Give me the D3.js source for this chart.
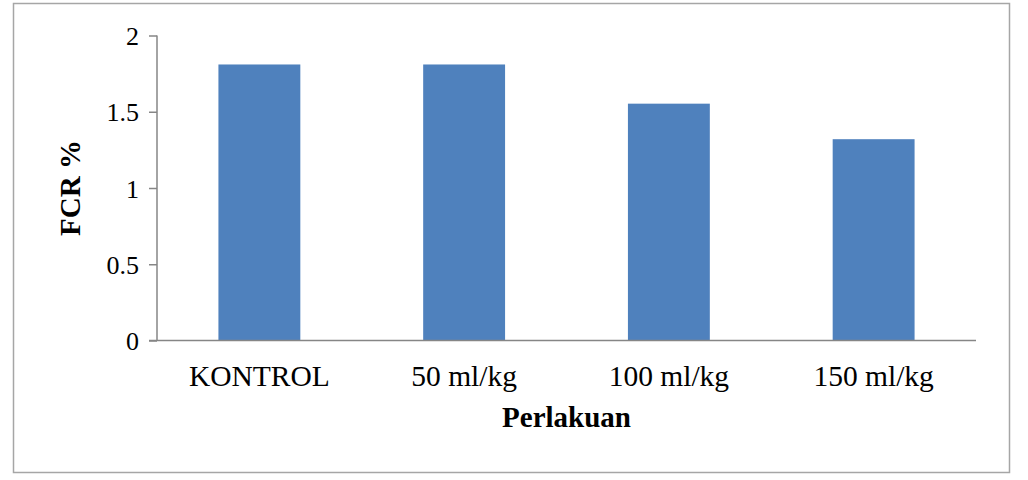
<!DOCTYPE html>
<html>
<head>
<meta charset="utf-8">
<script src="https://cdn.jsdelivr.net/npm/d3@7"></script>
<style>
  body { margin: 0; background: #fff; }
  .tick text { font-family: "Liberation Serif", "Times New Roman", serif; fill: #000; }
</style>
</head>
<body>
<div class="chart"></div>
<script>
// data
var categories = ["KONTROL", "50 ml/kg", "100 ml/kg", "150 ml/kg"];
var fcrValues = [1.81, 1.81, 1.553, 1.32];
var yTicks = [0, 0.5, 1, 1.5, 2];

var svgWidth = 1028;
var svgHeight = 480;

var margin = { top: 35.5, right: 52, bottom: 140, left: 157 };
var width = 976 - margin.left;
var height = 340.5 - margin.top;

var svg = d3.select(".chart")
  .append("svg")
  .attr("width", svgWidth)
  .attr("height", svgHeight);

// outer frame
svg.append("rect")
  .attr("x", 13.5)
  .attr("y", 3.5)
  .attr("width", 996)
  .attr("height", 469)
  .attr("fill", "none")
  .attr("stroke", "#a6a6a6")
  .attr("stroke-width", 1.5);

var chartGroup = svg.append("g")
  .attr("transform", `translate(${margin.left}, ${margin.top})`);

var xBandScale = d3.scaleBand()
  .domain(categories)
  .range([0, width])
  .paddingInner(0.6)
  .paddingOuter(0.3);

var yLinearScale = d3.scaleLinear()
  .domain([0, 2])
  .range([height, 0]);

// bars
chartGroup.selectAll("rect.bar")
  .data(fcrValues)
  .enter()
  .append("rect")
  .attr("class", "bar")
  .attr("x", (d, i) => xBandScale(categories[i]))
  .attr("y", d => yLinearScale(d))
  .attr("width", xBandScale.bandwidth())
  .attr("height", d => height - yLinearScale(d))
  .attr("fill", "#4f81bd");

// y axis
var leftAxis = d3.axisLeft(yLinearScale)
  .tickValues(yTicks)
  .tickFormat(d3.format("~g"))
  .tickSize(8)
  .tickPadding(10);

var yAxisG = chartGroup.append("g").call(leftAxis);
yAxisG.select(".domain").attr("d", `M0,0V${height}`);
yAxisG.selectAll("line, path").attr("stroke", "#868686").attr("stroke-width", 1.5);
yAxisG.selectAll("text").style("font-size", "26px").attr("dy", "0.35em");

// x axis
var bottomAxis = d3.axisBottom(xBandScale)
  .tickSize(0)
  .tickPadding(25);

var xAxisG = chartGroup.append("g")
  .attr("transform", `translate(0, ${height})`)
  .call(bottomAxis);
xAxisG.select(".domain").attr("d", `M-8,0H${width}`)
  .attr("stroke", "#868686").attr("stroke-width", 1.5);
xAxisG.selectAll("text").style("font-size", "29.5px").attr("dy", "0.68em");

// axis labels
chartGroup.append("text")
  .attr("transform", "rotate(-90)")
  .attr("x", 0 - height / 2)
  .attr("y", 80 - margin.left)
  .attr("text-anchor", "middle")
  .style("font-family", "'Liberation Serif', 'Times New Roman', serif")
  .style("font-weight", "bold")
  .style("font-size", "29px")
  .text("FCR %");

chartGroup.append("text")
  .attr("x", width / 2)
  .attr("y", 427 - margin.top)
  .attr("text-anchor", "middle")
  .style("font-family", "'Liberation Serif', 'Times New Roman', serif")
  .style("font-weight", "bold")
  .style("font-size", "29px")
  .text("Perlakuan");
</script>
</body>
</html>
